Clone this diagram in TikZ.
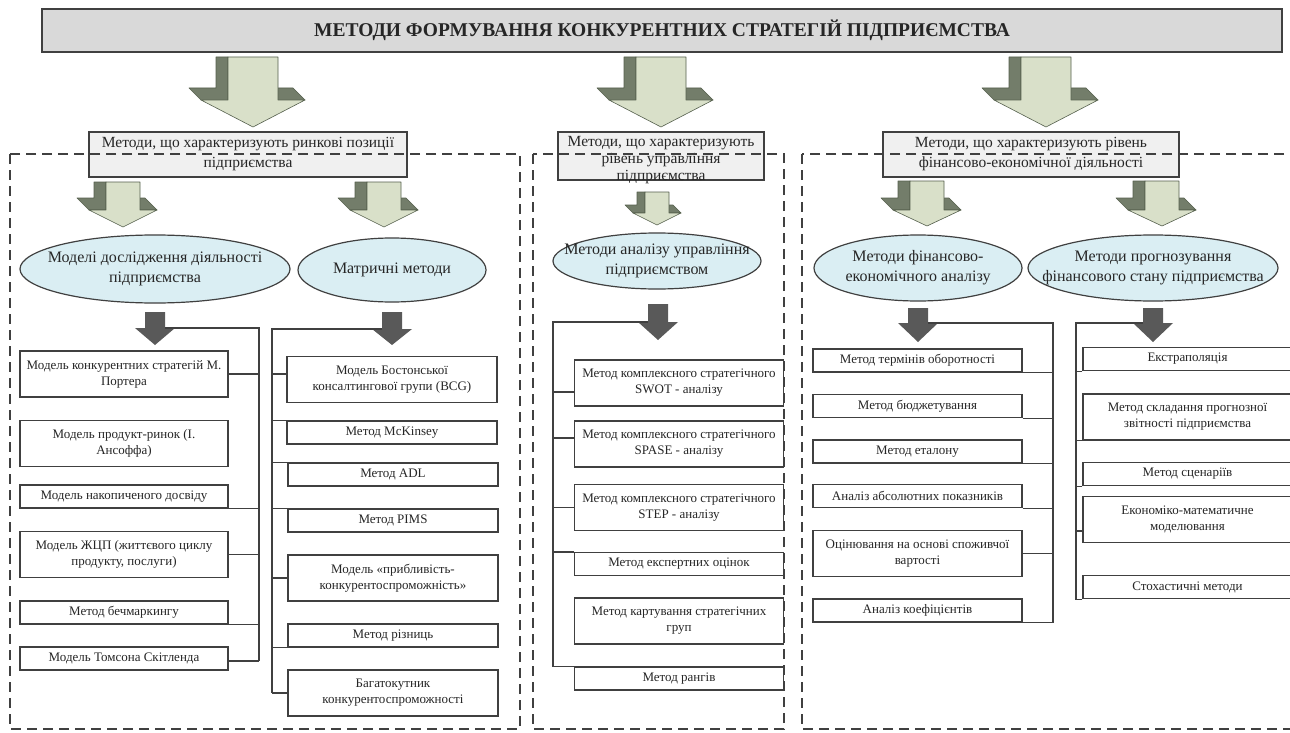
\documentclass[tikz,border=0pt]{standalone}
\usepackage{fontspec}
\setmainfont{Liberation Serif}
\usetikzlibrary{shapes.geometric}

\definecolor{linec}{HTML}{404040}
\definecolor{headfill}{HTML}{D9D9D9}
\definecolor{catfill}{HTML}{F0F0F0}
\definecolor{ovalfill}{HTML}{DAEEF3}
\definecolor{arrowlight}{HTML}{D9E0C9}
\definecolor{arrowdark}{HTML}{737D6A}
\definecolor{arrowedge}{HTML}{55604D}
\definecolor{solidgray}{HTML}{595959}

% 3D block arrow: centre, top, shoulder, tip, shaft half, head half, depth
\newcommand{\blockarrow}[7]{%
  \filldraw[arrowside] (#1-#5-#7,#2) -- (#1-#5,#2) -- (#1-#5,#3) -- (#1-#6,#3)
    -- (#1-#6-#7,#3-#7) -- (#1-#5-#7,#3-#7) -- cycle;
  \filldraw[arrowside] (#1+#5,#3-#7) -- (#1+#6-#7,#3-#7) -- (#1+#6,#3) -- (#1+#5,#3) -- cycle;
  \filldraw[arrowfront] (#1-#5,#2) -- (#1-#5,#3) -- (#1-#6,#3) -- (#1,#4)
    -- (#1+#6,#3) -- (#1+#5,#3) -- (#1+#5,#2) -- cycle;}
% plain dark arrow: centre, top, head, tip
\newcommand{\solidarrow}[4]{%
  \fill[darrow] (#1-10,#2) -- (#1-10,#3) -- (#1-20,#3) -- (#1,#4)
    -- (#1+20,#3) -- (#1+10,#3) -- (#1+10,#2) -- cycle;}

\begin{document}
\begin{tikzpicture}[x=1pt, y=-1pt, text=black!85,
  boxline/.style={draw=linec, line width=1.2pt},
  headbox/.style={boxline, fill=headfill, minimum width=1240pt, minimum height=43pt, font=\fontsize{19.5}{24}\selectfont\bfseries},
  cat/.style={boxline, fill=catfill, inner sep=0pt, align=center, font=\fontsize{15.5}{20}\selectfont},
  oval/.style={ellipse, boxline, fill=ovalfill, inner sep=0pt},
  ovaltext/.style={align=center, inner sep=0pt, font=\fontsize{16}{20}\selectfont},
  item/.style={boxline, fill=white, inner sep=0pt, align=center, font=\fontsize{13}{16}\selectfont},
  tall/.style={minimum height=46pt},
  short/.style={minimum height=23pt},
  wire/.style={draw=linec, line width=1.2pt},
  dashbox/.style={draw=linec, line width=1.2pt, dash pattern=on 10pt off 6pt},
  arrowside/.style={fill=arrowdark, draw=arrowedge, line width=0.6pt, line join=round},
  arrowfront/.style={fill=arrowlight, draw=arrowedge, line width=0.6pt, line join=round},
  darrow/.style={fill=solidgray}]
\fill[white] (0,0) rectangle (1290,733);
\useasboundingbox (0,0) rectangle (1290,733);

% title and the three groups
\node[headbox] (head) at (662,30.5) {МЕТОДИ ФОРМУВАННЯ КОНКУРЕНТНИХ СТРАТЕГІЙ ПІДПРИЄМСТВА};
\blockarrow{253}{57}{100}{127}{25}{52}{12}
\blockarrow{661}{57}{100}{127}{25}{52}{12}
\blockarrow{1046}{57}{100}{127}{25}{52}{12}
\node[cat, minimum width=318pt, minimum height=45pt] (cat1) at (248,154.5) {Методи, що характеризують ринкові позиції\\підприємства};
\node[cat, minimum width=206pt, minimum height=48pt] (cat2) at (661,156) {};
\node[align=center, inner sep=0pt, font=\fontsize{15.5}{17}\selectfont] (cat2t) at ([yshift=-4pt]cat2.center) {Методи, що характеризують\\рівень управління\\підприємства};
\node[cat, minimum width=296pt, minimum height=45pt] (cat3) at (1031,154.5) {Методи, що характеризують рівень\\фінансово-економічної діяльності};

\draw[dashbox] (10,154) rectangle (520,729);
\draw[dashbox] (533,154) rectangle (784,729);
\draw[dashbox] (802,154) rectangle (1300,729);

% second level
\blockarrow{123}{182}{210}{227}{17}{34}{12}
\blockarrow{384}{182}{210}{227}{17}{34}{12}
\blockarrow{657}{192}{213}{225}{12}{24}{8}
\blockarrow{927}{181}{210}{226}{17}{34}{12}
\blockarrow{1162}{181}{210}{226}{17}{34}{12}

\node[oval, minimum width=270pt, minimum height=68pt] (e1) at (155,269) {};
\node[ovaltext] (e1t) at (e1) {Моделі дослідження діяльності\\підприємства};
\node[oval, minimum width=188pt, minimum height=64pt] (e2) at (392,270) {};
\node[ovaltext] (e2t) at (e2) {Матричні методи};
\node[oval, minimum width=208pt, minimum height=56pt] (e3) at (657,261) {};
\node[ovaltext] (e3t) at (e3) {Методи аналізу управління\\підприємством};
\node[oval, minimum width=208pt, minimum height=66pt] (e4) at (918,268) {};
\node[ovaltext] (e4t) at (e4) {Методи фінансово-\\економічного аналізу};
\node[oval, minimum width=250pt, minimum height=66pt] (e5) at (1153,268) {};
\node[ovaltext] (e5t) at (e5) {Методи прогнозування\\фінансового стану підприємства};

\solidarrow{155}{312}{328}{345}
\solidarrow{392}{312}{329}{345}
\solidarrow{658}{304}{322}{340}
\solidarrow{918}{308}{323}{342}
\solidarrow{1153}{308}{323}{342}

% lists
\node[item, tall, minimum width=208pt] (m1) at (124,374) {Модель конкурентних стратегій М.\\Портера};
\node[item, tall, minimum width=208pt] (m2) at (124,443.5) {Модель продукт-ринок (І.\\Ансоффа)};
\node[item, short, minimum width=208pt] (m3) at (124,496.5) {Модель накопиченого досвіду};
\node[item, tall, minimum width=208pt] (m4) at (124,554.5) {Модель ЖЦП (життєвого циклу\\продукту, послуги)};
\node[item, short, minimum width=208pt] (m5) at (124,612.5) {Метод бечмаркингу};
\node[item, short, minimum width=208pt] (m6) at (124,658.5) {Модель Томсона Скітленда};

\node[item, tall, minimum width=210pt] (n1) at (392,379.5) {Модель Бостонської\\консалтингової групи (BCG)};
\node[item, short, minimum width=210pt] (n2) at (392,432.5) {Метод McKinsey};
\node[item, short, minimum width=210pt] (n3) at (393,474.5) {Метод ADL};
\node[item, short, minimum width=210pt] (n4) at (393,520.5) {Метод PIMS};
\node[item, tall, minimum width=210pt] (n5) at (393,578) {Модель «прибливість-\\конкурентоспроможність»};
\node[item, short, minimum width=210pt] (n6) at (393,635.5) {Метод різниць};
\node[item, tall, minimum width=210pt] (n7) at (393,693) {Багатокутник\\конкурентоспроможності};

\node[item, tall, minimum width=209pt] (k1) at (679,383) {Метод комплексного стратегічного\\SWOT - аналізу};
\node[item, tall, minimum width=209pt] (k2) at (679,444) {Метод комплексного стратегічного\\SPASE - аналізу};
\node[item, tall, minimum width=209pt] (k3) at (679,507.5) {Метод комплексного стратегічного\\STEP - аналізу};
\node[item, short, minimum width=209pt] (k4) at (679,564) {Метод експертних оцінок};
\node[item, tall, minimum width=209pt] (k5) at (679,621) {Метод картування стратегічних\\груп};
\node[item, short, minimum width=209pt] (k6) at (679,678.5) {Метод рангів};

\node[item, short, minimum width=209pt] (f1) at (917.5,360.5) {Метод термінів оборотності};
\node[item, short, minimum width=209pt] (f2) at (917.5,406) {Метод бюджетування};
\node[item, short, minimum width=209pt] (f3) at (917.5,451.5) {Метод еталону};
\node[item, short, minimum width=209pt] (f4) at (917.5,496) {Аналіз абсолютних показників};
\node[item, tall, minimum width=209pt] (f5) at (917.5,553.5) {Оцінювання на основі споживчої\\вартості};
\node[item, short, minimum width=209pt] (f6) at (917.5,610.5) {Аналіз коефіцієнтів};

\node[item, short, minimum width=209pt] (p1) at (1187.5,359) {Екстраполяція};
\node[item, tall, minimum width=209pt] (p2) at (1187.5,417) {Метод складання прогнозної\\звітності підприємства};
\node[item, short, minimum width=209pt] (p3) at (1187.5,474) {Метод сценаріїв};
\node[item, tall, minimum width=209pt] (p4) at (1187.5,519.5) {Економіко-математичне\\моделювання};
\node[item, short, minimum width=209pt] (p5) at (1187.5,587) {Стохастичні методи};

% brackets
\coordinate (ar1) at (165,328); \coordinate (t1) at (259,328); \coordinate (b1) at (259,661);
\coordinate (ar2) at (382,329); \coordinate (t2) at (272,329); \coordinate (b2) at (272,693);
\coordinate (ar3) at (648,322); \coordinate (t3) at (553,322); \coordinate (b3) at (553,667);
\coordinate (ar4) at (928,323); \coordinate (t4) at (1053,323); \coordinate (b4) at (1053,622);
\coordinate (ar5) at (1143,323); \coordinate (t5) at (1076,323); \coordinate (b5) at (1076,598);

\draw[wire] (ar1) -- (t1) -- (b1);
\draw[wire] (m1.east) -| (b1);
\draw[wire] (m3.south east) -| (b1);
\draw[wire] (m4.east) -| (b1);
\draw[wire] (m5.south east) -| (b1);
\draw[wire] ([yshift=-2.5pt]m6.east) -| (b1);

\draw[wire] (ar2) -- (t2) -- (b2);
\draw[wire] ([yshift=5.5pt]n1.west) -| (b2);
\draw[wire] (n2.north west) -| (b2);
\draw[wire] (n3.north west) -| (b2);
\draw[wire] (n4.north west) -| (b2);
\draw[wire] (n5.west) -| (b2);
\draw[wire] (n6.south west) -| (b2);
\draw[wire] (n7.west) -| (b2);

\draw[wire] (ar3) -- (t3) -- (b3);
\draw[wire] ([yshift=-9pt]k1.west) -| (b3);
\draw[wire] ([yshift=6pt]k2.west) -| (b3);
\draw[wire] (k3.west) -| (b3);
\draw[wire] (k4.north west) -| (b3);
\draw[wire] (k6.north west) -| (b3);

\draw[wire] (ar4) -- (t4) -- (b4);
\draw[wire] (f1.south east) -| (b4);
\draw[wire] (f2.south east) -| (b4);
\draw[wire] (f3.south east) -| (b4);
\draw[wire] (f4.south east) -| (b4);
\draw[wire] (f5.east) -| (b4);
\draw[wire] (f6.south east) -| (b4);

\draw[wire] (ar5) -- (t5) -- (b5);
\draw[wire] (p1.south west) -| (b5);
\draw[wire] (p2.south west) -| (b5);
\draw[wire] (p3.south west) -| (b5);
\draw[wire] ([yshift=-11.5pt]p4.west) -| (b5);
\draw[wire] (p5.south west) -| (b5);
\end{tikzpicture}
\end{document}
